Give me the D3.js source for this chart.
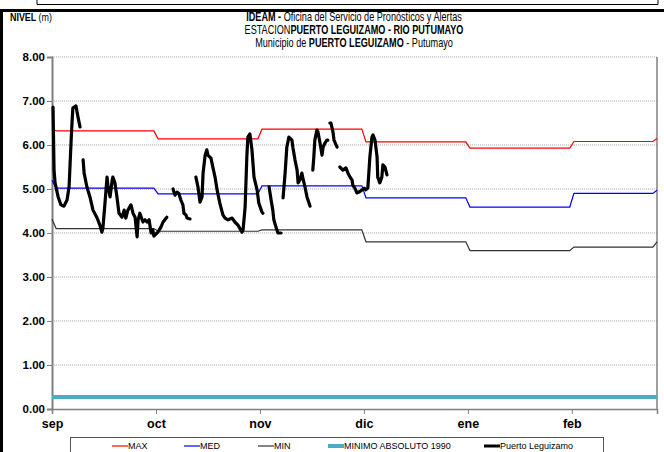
<!DOCTYPE html>
<html>
<head>
<meta charset="utf-8">
<script src="https://cdn.jsdelivr.net/npm/d3@7"></script>
<style>
  body { margin: 0; background: #fff; }
  svg { display: block; }
  text { font-family: "Liberation Sans Narrow", "Arial Narrow", "Liberation Sans", Arial, sans-serif; }
  .axis path, .axis line { stroke: #808080; }
  .axis text { font-weight: bold; fill: #000; }
</style>
</head>
<body>
<svg id="chart" width="664" height="452"></svg>
<script>
// month labels on the x axis (equal month widths, as in the original sheet)
var months = ["sep", "oct", "nov", "dic", "ene", "feb"];
var yTicks = [0, 1, 2, 3, 4, 5, 6, 7, 8];

// monthly reference levels (m), plus value on first and last day
var maxLevels = [6.32, 6.14, 6.36, 6.07, 5.93, 6.08];
var maxEnds = [6.38, 6.15];
var medLevels = [5.02, 4.89, 5.07, 4.80, 4.59, 4.90];
var medEnds = [5.20, 4.97];
var minLevels = [4.10, 4.04, 4.07, 3.80, 3.60, 3.68];
var minEnds = [4.32, 3.80];
var minimoAbsoluto1990 = 0.27;

// observed levels Puerto Leguizamo: [day since 1 sep, level m], gaps between pieces
var obs1 = [[0.3,6.86],[0.6,5.43],[0.9,5.14],[1.8,4.82],[2.6,4.64],[3.5,4.61],[4.4,4.75],[5.0,5.05],
  [5.6,6.11],[5.9,6.57],[6.1,6.84],[7.0,6.89],[7.6,6.64],[8.2,6.41]];
var obs2 = [[9.1,5.66],[9.4,5.36],[10.2,5.05],[11.1,4.82],[12.0,4.52],[13.2,4.34],[14.0,4.18],[14.6,4.02],
  [14.9,4.11],[15.5,4.68],[16.1,5.27],[16.4,5.05],[17.0,4.82],[17.6,5.20],[17.8,5.27],[18.4,5.14],
  [19.0,4.82],[19.6,4.45],[20.5,4.36],[21.1,4.52],[21.6,4.34],[22.2,4.52],[23.1,4.64],[23.7,4.45],
  [24.3,4.36],[24.9,3.91],[25.2,4.30],[25.7,4.45],[26.6,4.25],[27.2,4.30],[27.8,4.25],[28.4,4.30],
  [29.0,4.00],[29.5,4.07],[29.8,3.93],[30.7,4.00],[31.0,4.02],[31.9,4.14],[32.5,4.25],[33.6,4.36]];
var obs3 = [[35.4,5.00],[36.0,4.86],[36.6,4.93],[37.1,4.90],[37.7,4.75],[38.3,4.64],[38.6,4.45],
  [39.2,4.41],[39.5,4.34],[40.4,4.32]];
var obs4 = [[42.1,5.27],[42.7,5.05],[43.3,4.70],[43.9,4.82],[44.2,5.36],[44.8,5.77],[45.3,5.89],
  [45.6,5.77],[46.5,5.70],[47.1,5.48],[47.7,5.27],[48.3,4.98],[49.1,4.68],[50.0,4.41],[50.6,4.34],
  [51.5,4.30],[52.7,4.34],[53.5,4.25],[54.4,4.18],[55.6,4.02],[55.9,4.07],[56.5,4.59],[57.0,5.73],
  [57.3,6.18],[57.9,6.25],[58.5,5.89],[59.1,5.27],[60.0,4.98],[60.5,4.68],[61.4,4.48],[61.7,4.45]];
var obs5 = [[63.5,5.05],[64.1,4.75],[64.6,4.52],[64.9,4.30],[65.5,4.14],[66.1,4.00],[67.0,4.00]];
var obs6 = [[67.6,4.80],[68.2,5.36],[68.7,5.95],[69.3,6.18],[70.2,6.11],[70.5,5.93],[71.1,5.66],
  [71.7,5.43],[72.0,5.14],[72.5,5.20],[73.1,5.36],[73.4,5.25],[74.0,5.05],[74.6,4.82],[75.5,4.61]];
var obs7 = [[76.3,5.43],[76.6,5.73],[76.9,6.11],[77.5,6.34],[77.8,6.30],[78.4,6.05],[79.0,5.77],
  [79.3,5.95],[79.9,6.05],[80.4,6.11],[80.7,6.11]];
var obs8 = [[81.3,6.50],[81.6,6.50],[82.2,6.30],[82.5,6.11],[83.4,5.95]];
var obs9 = [[84.2,5.50],[85.1,5.43],[86.0,5.48],[86.6,5.36],[87.2,5.27],[87.8,5.20],[88.0,5.09],
  [88.6,5.02],[89.2,4.91],[89.8,4.93],[90.7,4.98],[91.3,5.02],[91.8,4.98],[92.4,5.02],[93.0,5.73],
  [93.6,6.18],[93.9,6.23],[94.5,6.11],[95.1,5.73],[95.3,5.27],[95.9,5.14],[96.5,5.27],[96.8,5.55],
  [97.4,5.50],[98.0,5.32]];
var puertoLeguizamo = [obs1, obs2, obs3, obs4, obs5, obs6, obs7, obs8, obs9];

var DAYS = 365 / 12;   // one month on the axis
var lastDay = 177;

var svg = d3.select("#chart");

var x = d3.scaleLinear().domain([0, lastDay]).range([52, 657]);
var y = d3.scaleLinear().domain([0, 8]).range([409, 57]);

// frames around the sheet
svg.append("path")
  .attr("d", "M37,0V4.5H658V0")
  .attr("fill", "none").attr("stroke", "#000").attr("stroke-width", 1);
svg.append("path")
  .attr("d", "M1.5,452V10.5H664")
  .attr("fill", "none").attr("stroke", "#000").attr("stroke-width", 3);

// titles (narrow face not installed, so squeeze horizontally)
function titleLine(yPos) {
  return svg.append("text")
    .attr("transform", "translate(354," + yPos + ") scale(0.76,1)")
    .attr("text-anchor", "middle")
    .style("font-size", "12px");
}
var t1 = titleLine(21);
t1.append("tspan").style("font-weight", "bold").text("IDEAM - ");
t1.append("tspan").text("Oficina del Servicio de Pronósticos y Alertas");
var t2 = titleLine(34);
t2.append("tspan").text("ESTACION");
t2.append("tspan").style("font-weight", "bold").text("PUERTO LEGUIZAMO -  RIO PUTUMAYO");
var t3 = titleLine(47);
t3.append("tspan").text("Municipio de ");
t3.append("tspan").style("font-weight", "bold").text("PUERTO LEGUIZAMO");
t3.append("tspan").text(" - Putumayo");

var ylab = svg.append("text").attr("transform", "translate(10,21) scale(0.85,1)").style("font-size", "10.5px");
ylab.append("tspan").style("font-weight", "bold").text("NIVEL ");
ylab.append("tspan").text("(m)");

// grid lines
svg.append("g").selectAll("line")
  .data(yTicks.filter(function(d) { return d > 0; }))
  .enter().append("line")
    .attr("x1", x(0)).attr("x2", x(lastDay))
    .attr("y1", function(d) { return y(d); })
    .attr("y2", function(d) { return y(d); })
    .attr("stroke", "#a8a8a8").attr("stroke-dasharray", "1,1");

// right border of plot area
svg.append("line")
  .attr("x1", x(lastDay)).attr("x2", x(lastDay))
  .attr("y1", y(8)).attr("y2", y(0))
  .attr("stroke", "#808080").attr("stroke-width", 1.5);

// axes
svg.append("g")
  .attr("class", "axis")
  .attr("transform", "translate(" + x(0) + ",0)")
  .call(d3.axisLeft(y).tickValues(yTicks).tickFormat(d3.format(".2f")).tickSize(5).tickPadding(2))
  .call(function(g) {
    g.select(".domain").attr("stroke-width", 2);
    g.selectAll("text").style("font-size", "11.5px");
  });

svg.append("g")
  .attr("class", "axis")
  .attr("transform", "translate(0," + y(0) + ")")
  .call(d3.axisBottom(x)
    .tickValues(months.map(function(m, i) { return i * DAYS; }))
    .tickFormat(function(d, i) { return months[i]; })
    .tickSize(5).tickPadding(5))
  .call(function(g) {
    g.select(".domain").attr("stroke-width", 1.5);
    g.selectAll("text").style("font-size", "12.5px");
  });

// build the stepped reference series from the monthly levels
function steps(levels, ends) {
  var pts = [[0, ends[0]], [1.2, levels[0]]];
  levels.forEach(function(v, i) {
    if (i > 0) {
      pts.push([i * DAYS - 0.6, levels[i - 1]]);
      pts.push([i * DAYS + 0.6, v]);
    }
  });
  pts.push([lastDay - 1.2, levels[levels.length - 1]]);
  pts.push([lastDay, ends[1]]);
  return pts;
}

var line = d3.line()
  .x(function(d) { return x(d[0]); })
  .y(function(d) { return y(d[1]); });

var refs = [
  { data: steps(maxLevels, maxEnds), color: "#ff0000", w: 1.2 },
  { data: steps(medLevels, medEnds), color: "#0000ff", w: 1.2 },
  { data: steps(minLevels, minEnds), color: "#333333", w: 1.2 },
  { data: [[0, minimoAbsoluto1990], [lastDay, minimoAbsoluto1990]], color: "#4bacc6", w: 4 }
];

svg.append("g").selectAll("path")
  .data(refs)
  .enter().append("path")
    .attr("d", function(d) { return line(d.data); })
    .attr("fill", "none")
    .attr("stroke", function(d) { return d.color; })
    .attr("stroke-width", function(d) { return d.w; });

svg.append("g").selectAll("path")
  .data(puertoLeguizamo)
  .enter().append("path")
    .attr("d", line)
    .attr("fill", "none")
    .attr("stroke", "#000")
    .attr("stroke-width", 3.2)
    .attr("stroke-linejoin", "round")
    .attr("stroke-linecap", "round");

// legend
var legendItems = [
  { name: "MAX", color: "#ff0000", w: 1.2, x: 112 },
  { name: "MED", color: "#0000ff", w: 1.2, x: 184 },
  { name: "MIN", color: "#333333", w: 1.2, x: 258 },
  { name: "MINIMO ABSOLUTO 1990", color: "#4bacc6", w: 4, x: 328 },
  { name: "Puerto Leguizamo", color: "#000", w: 3, x: 484 }
];

svg.append("rect")
  .attr("x", 70.5).attr("y", 437.5).attr("width", 533).attr("height", 30)
  .attr("fill", "none").attr("stroke", "#555").attr("stroke-width", 1);

var leg = svg.append("g").selectAll("g")
  .data(legendItems)
  .enter().append("g")
    .attr("transform", function(d) { return "translate(" + d.x + ",446)"; });
leg.append("line")
  .attr("x1", 0).attr("x2", 16)
  .attr("stroke", function(d) { return d.color; })
  .attr("stroke-width", function(d) { return d.w; });
leg.append("text")
  .attr("x", 16).attr("dy", "0.35em")
  .style("font-size", "9px")
  .text(function(d) { return d.name; });
</script>
</body>
</html>
